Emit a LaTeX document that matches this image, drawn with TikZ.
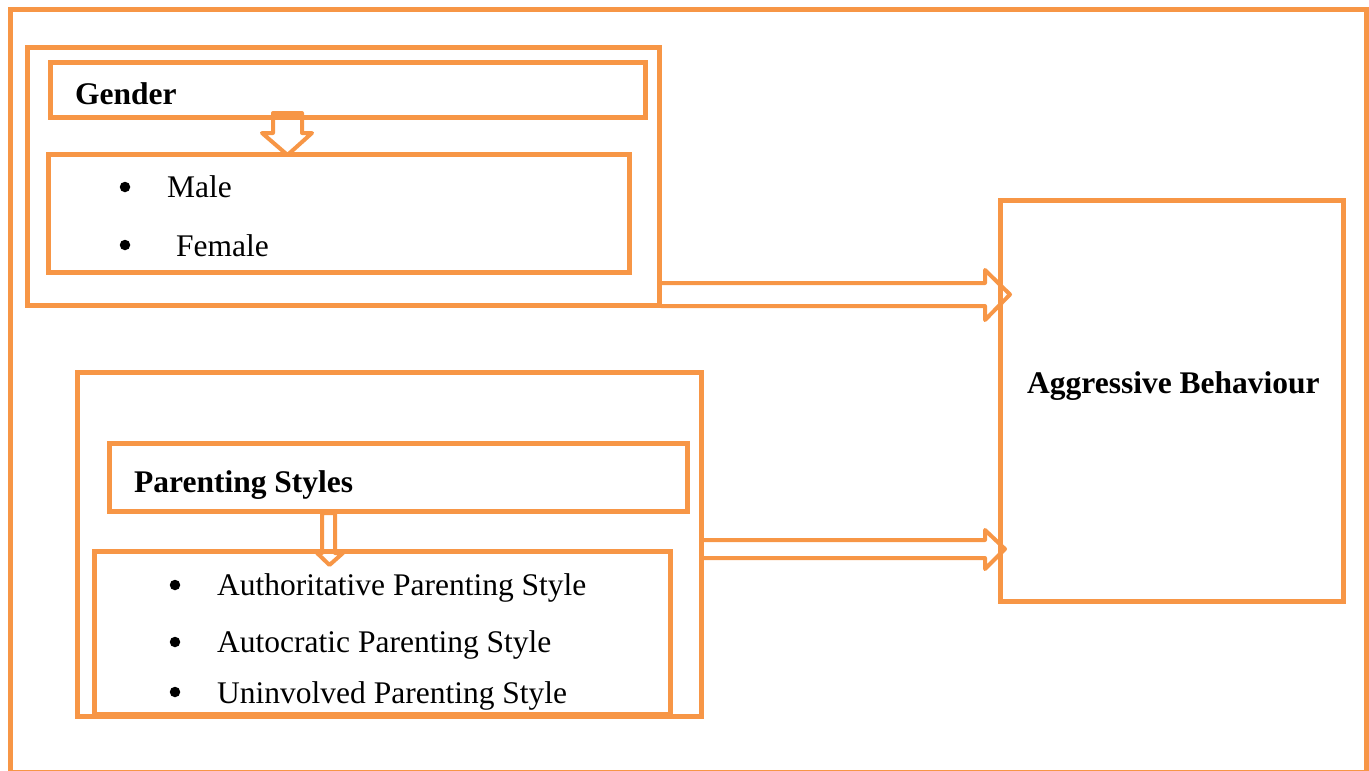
\documentclass[tikz,border=0pt]{standalone}
\usepackage{fontspec}
\setmainfont{Liberation Serif}
\usetikzlibrary{calc}
\definecolor{acc}{HTML}{F79646}
\tikzset{
 box/.style={draw=acc, line width=5pt, inner sep=0pt, outer sep=0pt, anchor=north west},
 blockarrow/.style={draw=acc, line width=4pt, line join=round},
 txt/.style={inner sep=0pt, anchor=base west, font=\fontsize{31.5}{36}\selectfont},
 btxt/.style={inner sep=0pt, anchor=base west, font=\fontsize{31.5}{36}\selectfont\bfseries},
 bul/.style={circle, fill=black, inner sep=0pt, minimum size=10.5pt},
}
\begin{document}
\begin{tikzpicture}[x=1pt,y=-1pt]
\useasboundingbox (0,0) rectangle (1369,771);
% frame
\node[box, minimum width=1356pt, minimum height=763.5pt] (frame) at (10,9) {};
% gender group
\node[box, minimum width=632pt, minimum height=258pt] (gout) at (27,47) {};
\node[box, minimum width=595pt, minimum height=55pt] (gh) at (50,62) {};
\node[box, minimum width=581pt, minimum height=118pt] (gl) at (48,154) {};
% aggressive
\node[box, minimum width=343pt, minimum height=401pt] (agg) at (1000,200) {};
% parenting group
\node[box, minimum width=624pt, minimum height=344pt] (pout) at (77,372) {};
\node[box, minimum width=578pt, minimum height=68pt] (ph) at (109,443) {};
\node[box, minimum width=576pt, minimum height=163pt] (pl) at (94,551) {};
% texts
\node[btxt] (tg) at (75,104) {Gender};
\node[bul] (b1) at (125,187) {};
\node[txt] (tm) at (167,197) {Male};
\node[bul] (b2) at (125,245) {};
\node[txt] (tf) at (176,256) {Female};
\node[btxt] (ta) at (1027,393) {Aggressive Behaviour};
\node[btxt] (tp) at (134,492) {Parenting Styles};
\node[bul] (b3) at (175,585) {};
\node[txt] (t1) at (217,595) {Authoritative Parenting Style};
\node[bul] (b4) at (175,642) {};
\node[txt] (t2) at (217,652) {Autocratic Parenting Style};
\node[bul] (b5) at (175,692) {};
\node[txt] (t3) at (217,703) {Uninvolved Parenting Style};
% down arrow gender
\coordinate (d1s) at ($(gh.south west)+(223,-4)$);
\draw[blockarrow] (d1s) -- ++(0,20) -- ++(-11,0) -- ++(25.5,22) -- ++(24.5,-22) -- ++(-10,0) -- ++(0,-20) -- cycle;
% down arrow parenting
\coordinate (d2s) at ($(ph.south west)+(213,2)$);
\draw[blockarrow] (d2s) -- ++(0,40) -- ++(-5,0) -- ++(12.5,12) -- ++(13.5,-12) -- ++(-8,0) -- ++(0,-40) -- cycle;
% right arrow gender -> aggressive
\coordinate (a1s) at ($(gout.south east)+(2,-22)$);
\draw[blockarrow] (a1s) -- ($(a1s -| agg.west)+(-15,0)$) -- ++(0,-13) -- ++(25,24.5) -- ++(-25,25.5) -- ++(0,-14) -- ($(a1s)+(0,23)$);
% right arrow parenting -> aggressive
\coordinate (a2s) at ($(pout.north east)+(2,168)$);
\draw[blockarrow] (a2s) -- ($(a2s -| agg.west)+(-15,0)$) -- ++(0,-10) -- ++(20,19) -- ++(-20,20) -- ++(0,-11) -- ($(a2s)+(0,18)$);
\end{tikzpicture}
\end{document}
